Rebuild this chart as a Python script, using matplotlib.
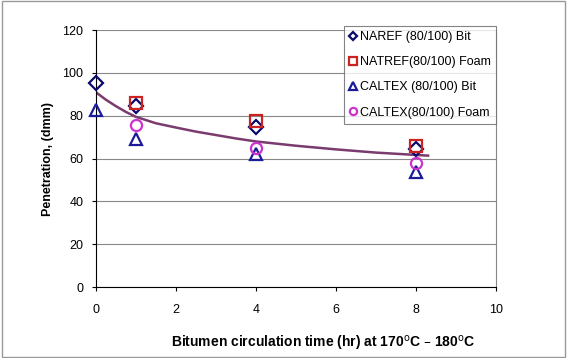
import matplotlib.pyplot as plt
import numpy as np

plt.rcParams['font.family'] = ['Liberation Sans', 'DejaVu Sans']

# measured points
hours = [0, 1, 4, 8]
naref_bit = [95.2, 84.5, 74.7, 64.4]
natref_foam_x = [1, 4, 8]
natref_foam = [86, 77.5, 66]
caltex_bit = [82.6, 69, 62, 53.7]
caltex_foam_x = [1, 4, 8]
caltex_foam = [75.6, 65, 58]

# trend line
trend_x = [0, 0.25, 0.5, 0.75, 1, 1.5, 2, 2.5, 3, 3.5, 4, 5, 6, 7, 8, 8.3]
trend_y = [91, 87.5, 84.5, 81.8, 79.5, 76.5, 74.5, 72.6, 71, 69.4, 68, 66, 64.3, 62.8, 61.7, 61.4]

fig = plt.figure(figsize=(5.67, 3.58), dpi=100)
ax = fig.add_axes([0.169, 0.198, 0.706, 0.718])

ax.plot(trend_x, trend_y, color='#7a3b6e', lw=1.8, zorder=2)

kw = dict(mfc='none', mew=1.6, linestyle='none', clip_on=False, zorder=3)
ax.plot(hours, naref_bit, 'D', mec='#0a0a6e', ms=7, label='NAREF (80/100) Bit', **kw)
ax.plot(natref_foam_x, natref_foam, 's', mec='#cc2222', ms=8, label='NATREF(80/100) Foam', **kw)
ax.plot(hours, caltex_bit, '^', mec='#1a1a9a', ms=9, label='CALTEX (80/100) Bit', **kw)
ax.plot(caltex_foam_x, caltex_foam, 'o', mec='#cc33cc', ms=8, label='CALTEX(80/100) Foam', **kw)

ax.set_xlim(0, 10)
ax.set_ylim(0, 120)
ax.set_xticks(range(0, 11, 2))
ax.set_yticks(range(0, 121, 20))
ax.yaxis.grid(True, color='#888888', lw=0.8)
ax.set_axisbelow(True)
ax.spines['top'].set_visible(False)
ax.spines['right'].set_color('#888888')
ax.tick_params(labelsize=9, length=3, direction='out')
ax.tick_params(axis='x', pad=9)
ax.tick_params(axis='y', pad=6)

ax.set_xlabel('Bitumen circulation time (hr) at 170$^{\\rm o}$C – 180$^{\\rm o}$C',
              fontsize=10, fontweight='bold', va='center')
ax.xaxis.set_label_coords(0.567, -0.218)
ax.set_ylabel('Penetration, (dmm)', fontsize=9, fontweight='bold', labelpad=6)

leg = ax.legend(loc='upper right', bbox_to_anchor=(1.0, 1.015), fontsize=9,
                frameon=True, fancybox=False, edgecolor='#666666',
                handlelength=0.6, handletextpad=0.3, borderpad=0.4,
                labelspacing=1.05, markerscale=0.65, borderaxespad=0)
leg.get_frame().set_linewidth(0.8)

# outer border
fig.patches.append(plt.Rectangle((0.003, 0.003), 0.994, 0.994, transform=fig.transFigure,
                                 fill=False, edgecolor='#999999', lw=1))

fig.savefig('out.png', dpi=100)
